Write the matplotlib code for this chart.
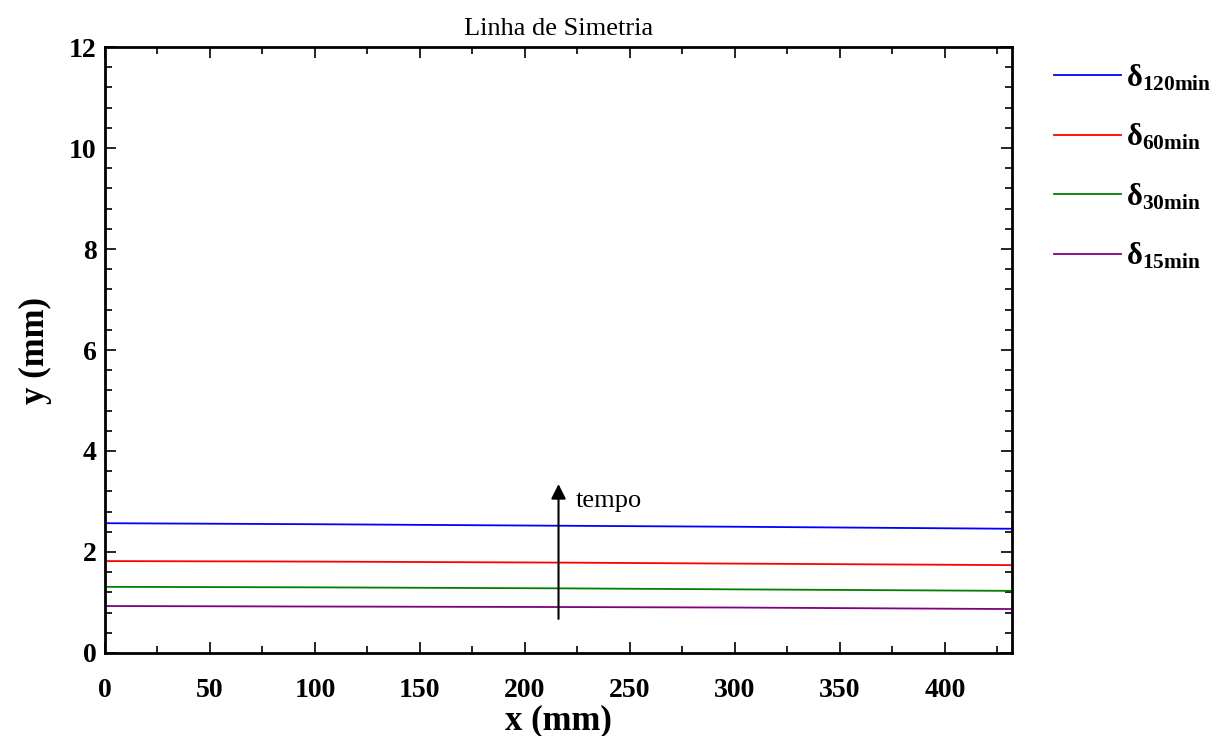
import matplotlib.pyplot as plt
from matplotlib.ticker import MultipleLocator

plt.rcParams['font.family'] = ['Liberation Serif', 'DejaVu Serif']
plt.rcParams['mathtext.fontset'] = 'custom'
plt.rcParams['mathtext.rm'] = 'Liberation Serif:bold'
plt.rcParams['mathtext.it'] = 'Liberation Serif:bold'
plt.rcParams['mathtext.bf'] = 'Liberation Serif:bold'

# perfis ao longo da linha de simetria
x = [0, 100, 216, 300, 432]
d120 = [2.57, 2.55, 2.52, 2.50, 2.46]
d60 = [1.82, 1.81, 1.79, 1.77, 1.74]
d30 = [1.31, 1.30, 1.28, 1.26, 1.23]
d15 = [0.93, 0.92, 0.91, 0.90, 0.87]

series = [d120, d60, d30, d15]
labels = ['120min', '60min', '30min', '15min']
colors = ['#0000ff', '#ff0000', '#008000', '#800080']

fig = plt.figure(figsize=(12.18, 7.36), dpi=100)
ax = fig.add_axes([0.0862, 0.1128, 0.7447, 0.8233])

lines = []
for y, lab, c in zip(series, labels, colors):
    l, = ax.plot(x, y, color=c, lw=1.3, label=r'$\mathrm{δ}_{\mathrm{%s}}$' % lab)
    lines.append(l)

ax.annotate('', xy=(216, 3.40), xytext=(216, 0.62),
            arrowprops=dict(arrowstyle='-|>', color='black', lw=1.5, mutation_scale=22))
ax.text(224, 2.89, 'tempo', fontsize=19)

ax.set_xlim(0, 432)
ax.set_ylim(0, 12)
ax.xaxis.set_major_locator(MultipleLocator(50))
ax.xaxis.set_minor_locator(MultipleLocator(25))
ax.yaxis.set_major_locator(MultipleLocator(2))
ax.yaxis.set_minor_locator(MultipleLocator(0.4))
ax.tick_params(which='both', direction='in', top=True, right=True, width=1.2)
ax.tick_params(which='major', length=8, labelsize=20)
ax.tick_params(axis='x', which='major', pad=18)
ax.tick_params(axis='y', which='major', pad=6)
ax.tick_params(which='minor', length=5)
for lbl in ax.get_xticklabels() + ax.get_yticklabels():
    lbl.set_fontweight('bold')
for s in ax.spines.values():
    s.set_linewidth(2)

ax.set_xlabel('x (mm)', fontsize=25, fontweight='bold', labelpad=1)
ax.set_ylabel('y (mm)', fontsize=25, fontweight='bold', labelpad=12)
ax.set_title('Linha de Simetria', fontsize=19, pad=9)

fig.legend(handles=lines, loc='upper left', bbox_to_anchor=(0.8654, 0.915),
           frameon=False, fontsize=22, handlelength=2.2, handletextpad=0.15,
           labelspacing=0.95, borderpad=0, borderaxespad=0)

fig.savefig('out.png', dpi=100)
